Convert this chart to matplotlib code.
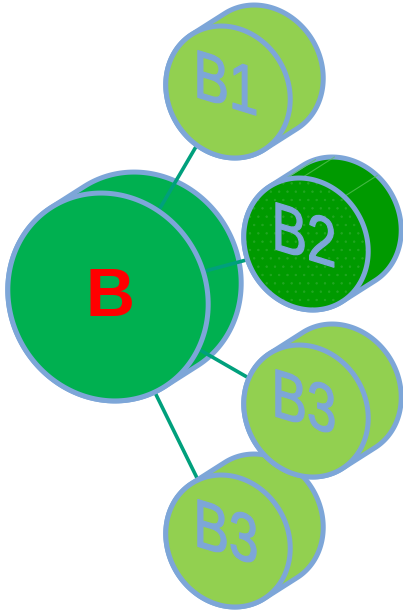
import numpy as np
import matplotlib
matplotlib.use("Agg")
import matplotlib.pyplot as plt
from matplotlib.patches import Polygon
from matplotlib.patheffects import AbstractPathEffect
from matplotlib.transforms import Affine2D

# ---- data ----
labels = ["B", "B1", "B2", "B3", "B3"]
parent = [None, 0, 0, 0, 0]          # tree links: child -> parent index

# ---- layout (pixel coords, y down) ----
centers = [(108, 297), (228, 92), (306, 244), (306, 411), (228, 541)]
semi = [(98, 106), (60, 68), (60, 68), (60, 68), (60, 68)]
face_col = ["#00B050", "#92D050", "#009A00", "#92D050", "#92D050"]
side_col = ["#00B050", "#92D050", "#009A00", "#92D050", "#92D050"]
depth = (33, -21)
theta = np.deg2rad(-31)
EDGE = "#7DA6D8"
LINE = "#00A07C"

plt.rcParams["hatch.linewidth"] = 0.5

fig = plt.figure(figsize=(4.03, 6.10), dpi=100)
ax = fig.add_axes([0, 0, 1, 1])
ax.set_xlim(0, 403)
ax.set_ylim(610, 0)
ax.axis("off")

U = np.array([np.cos(theta), np.sin(theta)])
V = np.array([-np.sin(theta), np.cos(theta)])


def ellipse_pts(c, a, b, n=240):
    t = np.linspace(0, 2 * np.pi, n, endpoint=False)
    return np.array(c) + np.outer(a * np.cos(t), U) + np.outer(b * np.sin(t), V)


def hull(p):
    p = sorted(map(tuple, p))
    def cross(o, a, b):
        return (a[0] - o[0]) * (b[1] - o[1]) - (a[1] - o[1]) * (b[0] - o[0])
    lo, up = [], []
    for q in p:
        while len(lo) >= 2 and cross(lo[-2], lo[-1], q) <= 0:
            lo.pop()
        lo.append(q)
    for q in reversed(p):
        while len(up) >= 2 and cross(up[-2], up[-1], q) <= 0:
            up.pop()
        up.append(q)
    return np.array(lo[:-1] + up[:-1])


def cylinder(i, z, face_z=None):
    c = centers[i]
    a, b = semi[i]
    fz = z + 0.2 if face_z is None else face_z
    front = ellipse_pts(c, a, b)
    back = front + np.array(depth)
    h = hull(np.vstack([front, back]))
    ax.add_patch(Polygon(h, closed=True, fc=side_col[i], ec=EDGE, lw=3.6, zorder=z))
    if i == 2:
        for tdeg in (-78, -60, -18):
            t = np.deg2rad(tdeg)
            p0 = np.array(c) + a * np.cos(t) * U + b * np.sin(t) * V
            p1 = p0 + np.array(depth)
            ax.plot([p0[0], p1[0]], [p0[1], p1[1]], color="#5FC45F", lw=0.8,
                    alpha=0.7, zorder=z + 0.1)
    ax.add_patch(Polygon(front, closed=True, fc=face_col[i], ec="none", zorder=fz))
    if i == 2:
        ax.add_patch(Polygon(front, closed=True, fc="none", ec="#22A622", lw=0,
                             hatch="..", zorder=fz + 0.1))
    ax.add_patch(Polygon(front, closed=True, fc="none", ec=EDGE, lw=3.6, zorder=fz + 0.2))


class Squash(AbstractPathEffect):
    """Compress glyphs horizontally and shear them, as on the tilted face."""

    def __init__(self, cx, cy, sx, ky, stroke):
        super().__init__()
        self.cx, self.cy, self.sx, self.ky, self.stroke = cx, cy, sx, ky, stroke

    def draw_path(self, renderer, gc, tpath, affine, rgbFace=None):
        m = np.array([[self.sx, 0, 0], [self.ky, 1, 0], [0, 0, 1]], float)
        extra = (Affine2D().translate(-self.cx, -self.cy) + Affine2D(m)
                 + Affine2D().translate(self.cx, self.cy))
        gc0 = renderer.new_gc()
        gc0.copy_properties(gc)
        if rgbFace is not None:
            gc0.set_foreground(rgbFace)
        gc0.set_linewidth(self.stroke)
        gc0.set_joinstyle("round")
        renderer.draw_path(gc0, tpath, affine + extra, rgbFace)
        gc0.restore()


# main cylinder: side at z=1, face at z=1.5 (links go between)
cylinder(0, 1, face_z=1.5)

for i, p in enumerate(parent):
    if p is None:
        continue
    x0, y0 = centers[p]
    x1, y1 = centers[i]
    ax.plot([x0, x1], [y0, y1], color=LINE, lw=2.6, zorder=1.1, solid_capstyle="butt")

order = [1, 2, 4, 3]
for k, i in enumerate(order):
    cylinder(i, 3 + k)

ax.text(centers[0][0] + 2, centers[0][1] + 1, labels[0], color="#FF0000",
        fontsize=49, fontweight="bold", family="Liberation Sans",
        ha="center", va="center", zorder=2)

for k, i in enumerate(order):
    cx, cy = centers[i]
    tx, ty = cx - 2, cy - 4
    dx, dy = ax.transData.transform((tx, ty))
    ax.text(tx, ty, labels[i], color=EDGE, fontsize=49, family="Liberation Sans",
            ha="center", va="center", zorder=3 + k + 0.5,
            path_effects=[Squash(dx, dy, 0.78, -0.24, 0.9)])

fig.savefig("out.png", dpi=100)
